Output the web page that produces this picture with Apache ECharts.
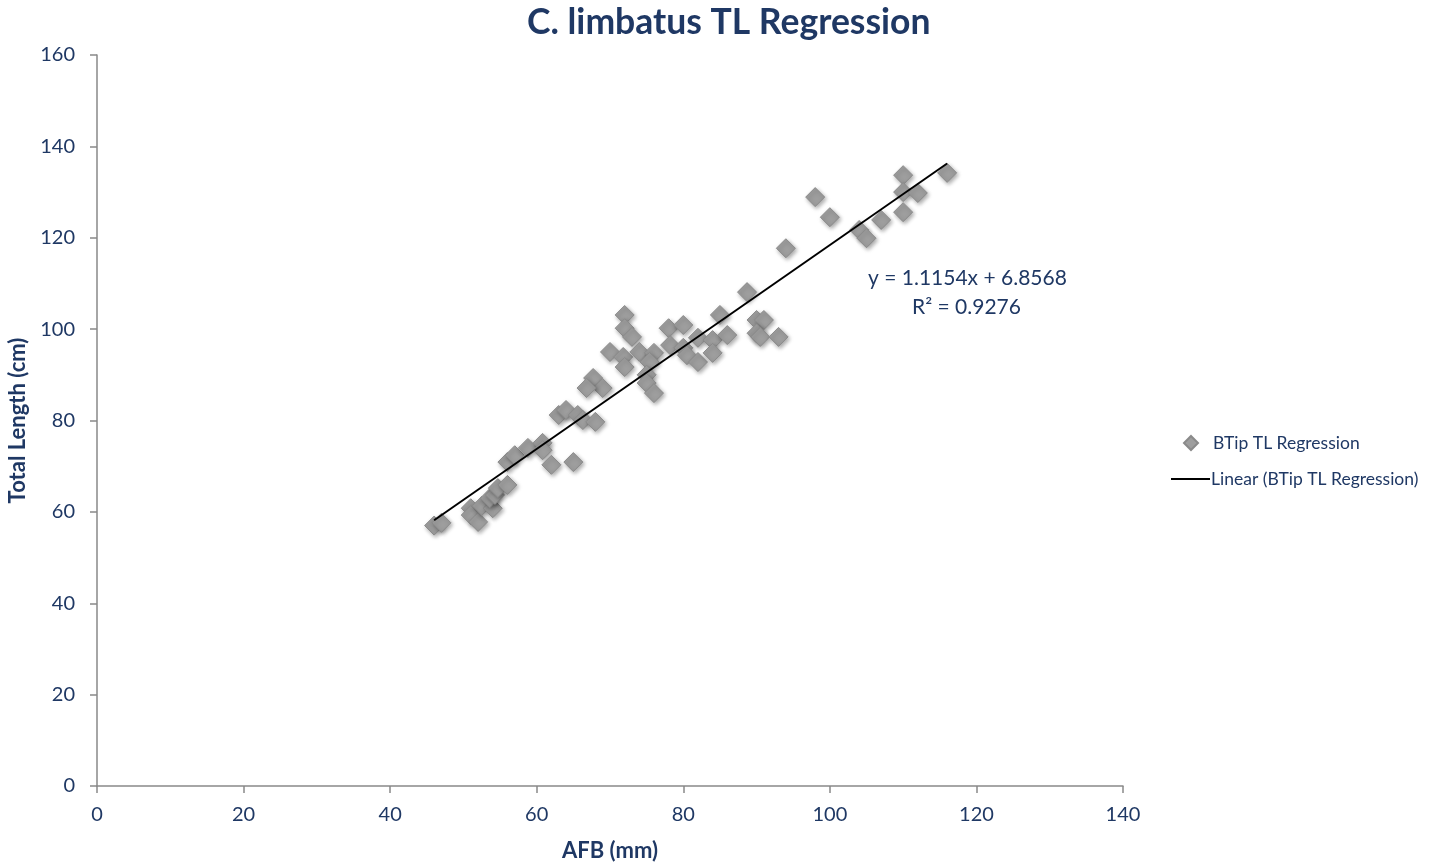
<!DOCTYPE html>
<html><head><meta charset="utf-8">
<script src="https://cdn.jsdelivr.net/npm/echarts@6/dist/echarts.min.js"></script>
<style>html,body{margin:0;padding:0;background:#fff}#c{width:1440px;height:862px}</style>
</head><body><div id="c"></div>
<script>
const afb = [46,47,51,51,52,52.5,54,53.6,54.3,54.7,56,56,57,58.8,60.8,60.8,62,65,63,64,65.6,66.3,68,
  72,72,73,70,71.8,72,74,76,75.4,75,75,76,78,80,78.2,80,80.5,82,82,84,84,85,86,90,91,90,90.5,93,88.7,67.7,69,66.8,
  94,98,100,104,105,107,110,110,110,112,116];
const totalLength = [57,57.6,60.8,59.3,57.8,61.3,60.8,63,63.7,65.2,65.9,70.9,72.4,74,75.1,73.5,70.3,70.9,81.2,82.3,81.2,80.1,79.7,
  103.1,100.2,98.3,95,93.9,91.7,95,94.8,92.8,90,88.2,86,100.2,100.9,96.5,95.9,94.3,98.1,92.8,97.6,94.8,103.1,98.7,102,102,99.1,98.3,98.3,108.1,89.3,87.1,87.1,
  117.7,128.9,124.5,121.7,119.9,123.9,133.7,130,125.6,129.8,134.2];
const slope = 1.1154, intercept = 6.8568, r2 = 0.9276;
const xTicks = [0,20,40,60,80,100,120,140];
const yTicks = [0,20,40,60,80,100,120,140,160];
const seriesName = 'BTip TL Regression';
const trendName = 'Linear (BTip TL Regression)';

const pts = afb.map((x,i)=>[x,totalLength[i]]);
const xmin = Math.min(...afb), xmax = Math.max(...afb);
const trend = [[xmin, slope*xmin+intercept],[xmax, slope*xmax+intercept]];
const navy = '#1F3864';
const font = 'Lato';
const chart = echarts.init(document.getElementById('c'));
chart.setOption({
  animation:false,
  textStyle:{fontFamily:font},
  title:{text:'C. limbatus TL Regression', left:522, top:0,
    textStyle:{fontFamily:font, fontWeight:'bold', fontSize:35.5, color:navy}},
  grid:{left:97, right:317, top:55, bottom:76, containLabel:false, outerBoundsMode:'none'},
  legend:[
    {data:[{name:seriesName, icon:'diamond'}], orient:'vertical', left:1178, top:429,
      itemWidth:14, itemHeight:14, itemGap:10,
      textStyle:{color:navy, fontSize:17.5, fontFamily:font, padding:[0,0,0,10]}},
    {data:[{name:trendName, icon:'rect', itemStyle:{color:'#000'}}], orient:'vertical', left:1166, top:465,
      itemWidth:39, itemHeight:2, itemGap:2,
      textStyle:{color:navy, fontSize:17.5, fontFamily:font, padding:[0,0,0,-4]}}
  ],
  xAxis:{type:'value', min:0, max:140, interval:20, name:'AFB (mm)', nameLocation:'middle', nameGap:54,
    nameTextStyle:{color:navy, fontWeight:'bold', fontSize:22, fontFamily:font},
    axisLine:{lineStyle:{color:'#898989', width:1.5}},
    axisTick:{show:true, inside:false, length:7, lineStyle:{color:'#898989', width:1.5}},
    axisLabel:{color:navy, fontSize:20, margin:19, fontFamily:font},
    splitLine:{show:false}},
  yAxis:{type:'value', min:0, max:160, interval:20, name:'Total Length (cm)', nameLocation:'middle', nameGap:66,
    nameTextStyle:{color:navy, fontWeight:'bold', fontSize:22, fontFamily:font},
    axisLine:{show:true, lineStyle:{color:'#898989', width:1.5}},
    axisTick:{show:true, inside:false, length:7, lineStyle:{color:'#898989', width:1.5}},
    axisLabel:{color:navy, fontSize:20, margin:22, fontFamily:font},
    splitLine:{show:false}},
  graphic:[
    {type:'text', left:868, top:268, style:{text:'y = '+slope+'x + '+intercept, fill:navy, font:'21px '+font}},
    {type:'text', left:912, top:297, style:{text:'R² = '+r2.toFixed(4), fill:navy, font:'21px '+font}}
  ],
  series:[
    {name:seriesName, type:'scatter', data:pts, symbol:'diamond', symbolSize:19, z:2,
      itemStyle:{color:'#9E9E9E', borderColor:'#8A8A8A', borderWidth:1, opacity:1,
        shadowBlur:4, shadowColor:'rgba(0,0,0,0.35)', shadowOffsetX:1.5, shadowOffsetY:2}},
    {name:trendName, type:'line', data:trend, symbol:'none', z:3,
      lineStyle:{color:'#000', width:2}, itemStyle:{color:'#000'}}
  ]
});
</script></body></html>
